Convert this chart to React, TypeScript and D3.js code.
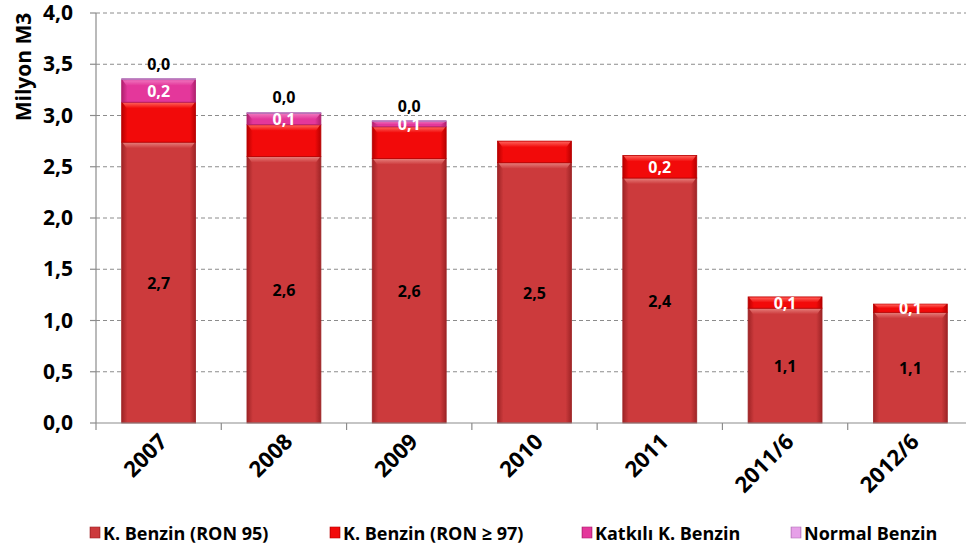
import React from 'react';
import * as d3 from 'd3';

const years = ['2007', '2008', '2009', '2010', '2011', '2011/6', '2012/6'];
const ron95 = [2.74, 2.6, 2.58, 2.54, 2.39, 1.12, 1.08];
const ron97 = [0.39, 0.31, 0.31, 0.21, 0.22, 0.11, 0.08];
const katkili = [0.22, 0.11, 0.05, 0, 0, 0, 0];
const normal = [0.01, 0.01, 0.01, 0, 0, 0, 0];
// which segments carry a value label in the original
const ron97Labeled = [false, false, false, false, true, true, true];
const katkiliLabeled = [true, true, true, false, false, false, false];
const normalLabeled = [true, true, true, false, false, false, false];
const yTicks = [0, 0.5, 1, 1.5, 2, 2.5, 3, 3.5, 4];

const seriesNames = ['K. Benzin (RON 95)', 'K. Benzin (RON \u2265 97)', 'Katkılı K. Benzin', 'Normal Benzin'];
const seriesColors = [
  { main: '#cc3a3c', dark: '#9e2426', light: '#e8837f' },
  { main: '#f20a0a', dark: '#b80000', light: '#ff6a62' },
  { main: '#e4379b', dark: '#b0206e', light: '#f07ac0' },
  { main: '#e6a0e8', dark: '#b574b8', light: '#f4cdf5' },
];
const legendX = [90, 330, 582, 791];

const fmt = (v: number) => d3.format('.1f')(v).replace('.', ',');
const font = '"Liberation Sans Narrow", "Open Sans", sans-serif';

export default function App() {
  const width = 966;
  const height = 551;
  const x0 = 96;
  const yTop = 13;
  const yBottom = 423;

  const x = d3.scaleBand<string>().domain(years).range([x0, 973]).paddingInner(0.41).paddingOuter(0.205);
  const y = d3.scaleLinear().domain([0, 4]).range([yBottom, yTop]);

  const rows = years.map((yr, i) => ({ year: yr, s0: ron95[i], s1: ron97[i], s2: katkili[i], s3: normal[i] }));
  const stack = d3.stack<any>().keys(['s0', 's1', 's2', 's3']);
  const layers = stack(rows);

  const step = x.step();

  return (
    <svg width={width} height={height} style={{ position: 'absolute', left: 0, top: 0, background: '#fff' }}>
      <defs>
        {seriesColors.map((c, i) => (
          <linearGradient key={i} id={`g${i}`} x1="0" x2="1" y1="0" y2="0">
            <stop offset="0" stopColor={c.dark} />
            <stop offset="0.08" stopColor={c.main} />
            <stop offset="0.92" stopColor={c.main} />
            <stop offset="1" stopColor={c.dark} />
          </linearGradient>
        ))}
        {seriesColors.map((c, i) => (
          <linearGradient key={'t' + i} id={`t${i}`} x1="0" x2="0" y1="0" y2="1">
            <stop offset="0" stopColor={c.light} />
            <stop offset="1" stopColor={c.main} />
          </linearGradient>
        ))}
      </defs>

      {/* grid */}
      {yTicks.slice(1).map((t) => (
        <line key={t} x1={x0} x2={width} y1={y(t)} y2={y(t)} stroke="#8c8c8c" strokeWidth={1} strokeDasharray="4,3" />
      ))}

      {/* bars */}
      {layers.map((layer, li) =>
        layer.map((d, i) => {
          const bx = x(years[i])!;
          const bw = x.bandwidth();
          const top = y(d[1]);
          const bot = y(d[0]);
          const h = bot - top;
          if (h <= 0) return null;
          const bevel = Math.min(6, h / 2);
          return (
            <g key={`${li}-${i}`}>
              <rect x={bx} y={top} width={bw} height={h} fill={`url(#g${li})`} stroke={seriesColors[li].dark} strokeWidth={0.8} />
              <path
                d={`M${bx + 1},${top + 0.5} L${bx + bw - 1},${top + 0.5} L${bx + bw - 5},${top + bevel} L${bx + 5},${top + bevel} Z`}
                fill={`url(#t${li})`}
                opacity={0.9}
              />
            </g>
          );
        })
      )}

      {/* value labels */}
      {layers[0].map((d, i) => (
        <text key={'l0' + i} x={x(years[i])! + x.bandwidth() / 2} y={y((d[0] + d[1]) / 2) + 6} textAnchor="middle"
          fontFamily={font} fontWeight="bold" fontSize={16} fill="#000">{fmt(ron95[i])}</text>
      ))}
      {layers[1].map((d, i) => ron97Labeled[i] ? (
        <text key={'l1' + i} x={x(years[i])! + x.bandwidth() / 2} y={y((d[0] + d[1]) / 2) + 6} textAnchor="middle"
          fontFamily={font} fontWeight="bold" fontSize={16} fill="#fff">{fmt(ron97[i])}</text>
      ) : null)}
      {layers[2].map((d, i) => katkiliLabeled[i] ? (
        <text key={'l2' + i} x={x(years[i])! + x.bandwidth() / 2} y={y((d[0] + d[1]) / 2) + 6} textAnchor="middle"
          fontFamily={font} fontWeight="bold" fontSize={16} fill="#fff">{fmt(katkili[i])}</text>
      ) : null)}
      {layers[3].map((d, i) => normalLabeled[i] ? (
        <text key={'l3' + i} x={x(years[i])! + x.bandwidth() / 2} y={y(d[1]) - 9} textAnchor="middle"
          fontFamily={font} fontWeight="bold" fontSize={16} fill="#000">{fmt(normal[i])}</text>
      ) : null)}

      {/* y axis */}
      <line x1={x0} x2={x0} y1={yTop} y2={yBottom} stroke="#8c8c8c" strokeWidth={1.2} />
      {yTicks.map((t) => (
        <g key={t}>
          <line x1={x0 - 6} x2={x0} y1={y(t)} y2={y(t)} stroke="#8c8c8c" strokeWidth={1.2} />
          <text x={73} y={y(t) + 7} textAnchor="end" fontFamily={font} fontWeight="bold" fontSize={21} fill="#000">{fmt(t)}</text>
        </g>
      ))}
      <text transform={`translate(31,67) rotate(-90)`} textAnchor="middle" fontFamily={font} fontWeight="bold" fontSize={21} fill="#000">Milyon M3</text>

      {/* x axis */}
      <line x1={x0} x2={width} y1={yBottom} y2={yBottom} stroke="#8c8c8c" strokeWidth={1.2} />
      {years.map((yr, i) => (
        <line key={'xt' + i} x1={x0 + step * i} x2={x0 + step * i} y1={yBottom} y2={yBottom + 7} stroke="#8c8c8c" strokeWidth={1.2} />
      ))}
      {years.map((yr) => (
        <text key={yr} transform={`translate(${x(yr)! + x.bandwidth() / 2 + 10},${yBottom + 20}) rotate(-45)`} textAnchor="end"
          fontFamily={font} fontWeight="bold" fontSize={22} fill="#000">{yr}</text>
      ))}

      {/* legend */}
      {seriesNames.map((n, i) => (
        <g key={n}>
          <rect x={legendX[i]} y={527} width={10} height={11} fill={`url(#g${i})`} stroke={seriesColors[i].dark} strokeWidth={0.6} />
          <text x={legendX[i] + 13} y={540} fontFamily={font} fontWeight="bold" fontSize={18} fill="#000">{n}</text>
        </g>
      ))}
    </svg>
  );
}
